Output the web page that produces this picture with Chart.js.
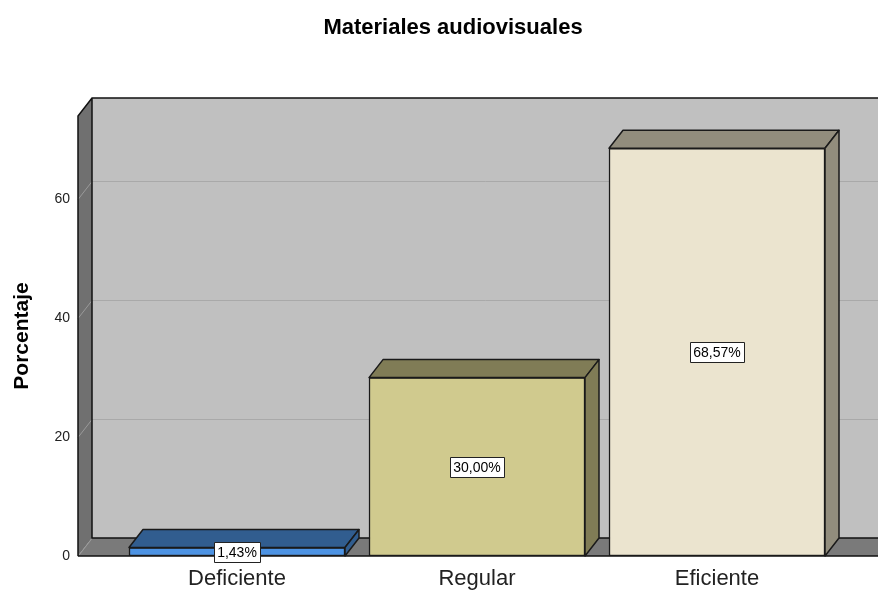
<!DOCTYPE html>
<html>
<head>
<meta charset="utf-8">
<script src="https://cdn.jsdelivr.net/npm/chart.js"></script>
<style>
  body { margin: 0; background: #fff; }
  #wrap { width: 878px; height: 590px; }
</style>
</head>
<body>
<div id="wrap"><canvas id="barChart" width="878" height="590"></canvas></div>
<script>
  // Data
  const categories = ['Deficiente', 'Regular', 'Eficiente'];
  const percentages = [1.43, 30.00, 68.57];
  const yTicks = [0, 20, 40, 60];

  // Styles
  const frontColors = ['#4d93e3', '#d0ca8e', '#ebe4cf'];
  const shadeColors = ['#315d8f', '#807c56', '#928d7d'];
  const depth = { dx: 14, dy: 18 };
  const FONT = 'Liberation Sans, Arial, sans-serif';

  // Walls, floor and back gridlines
  const walls = {
    id: 'walls',
    beforeDatasetsDraw(chart) {
      const ctx = chart.ctx;
      const ca = chart.chartArea;
      const y = chart.scales.y;
      const { dx, dy } = depth;
      const right = chart.width + 20;
      ctx.save();

      // back wall
      ctx.fillStyle = '#c0c0c0';
      ctx.fillRect(ca.left + dx, ca.top - dy, right - ca.left, ca.bottom - ca.top);

      // left wall
      ctx.fillStyle = '#707070';
      ctx.beginPath();
      ctx.moveTo(ca.left, ca.top);
      ctx.lineTo(ca.left + dx, ca.top - dy);
      ctx.lineTo(ca.left + dx, ca.bottom - dy);
      ctx.lineTo(ca.left, ca.bottom);
      ctx.closePath();
      ctx.fill();

      // floor
      ctx.fillStyle = '#7a7a7a';
      ctx.beginPath();
      ctx.moveTo(ca.left, ca.bottom);
      ctx.lineTo(ca.left + dx, ca.bottom - dy);
      ctx.lineTo(right, ca.bottom - dy);
      ctx.lineTo(right, ca.bottom);
      ctx.closePath();
      ctx.fill();

      // gridlines
      ctx.lineWidth = 1;
      yTicks.forEach(t => {
        const py = Math.round(y.getPixelForValue(t)) + 0.5;
        ctx.strokeStyle = '#a9a9a9';
        if (t > 0) {
          ctx.beginPath();
          ctx.moveTo(ca.left + dx, py - dy);
          ctx.lineTo(right, py - dy);
          ctx.stroke();
        }
        ctx.strokeStyle = '#9a9a9a';
        ctx.beginPath();
        ctx.moveTo(ca.left, py);
        ctx.lineTo(ca.left + dx, py - dy);
        ctx.stroke();
      });

      // outlines
      ctx.strokeStyle = '#111';
      ctx.lineWidth = 1.5;
      ctx.beginPath();
      ctx.moveTo(ca.left, ca.bottom);
      ctx.lineTo(ca.left, ca.top);
      ctx.lineTo(ca.left + dx, ca.top - dy);
      ctx.lineTo(right, ca.top - dy);
      ctx.moveTo(ca.left + dx, ca.top - dy);
      ctx.lineTo(ca.left + dx, ca.bottom - dy);
      ctx.lineTo(right, ca.bottom - dy);
      ctx.moveTo(ca.left, ca.bottom);
      ctx.lineTo(right, ca.bottom);
      ctx.stroke();
      ctx.restore();
    }
  };

  // 3D faces of the bars and value labels
  const bars3d = {
    id: 'bars3d',
    afterDatasetsDraw(chart) {
      const ctx = chart.ctx;
      const { dx, dy } = depth;
      const meta = chart.getDatasetMeta(0);
      ctx.save();
      ctx.lineWidth = 1.5;
      ctx.strokeStyle = '#1a1a1a';
      ctx.lineJoin = 'round';
      meta.data.forEach((bar, i) => {
        const { x, y, base, width } = bar.getProps(['x', 'y', 'base', 'width'], true);
        const l = x - width / 2, r = x + width / 2;
        ctx.fillStyle = shadeColors[i];
        // top
        ctx.beginPath();
        ctx.moveTo(l, y);
        ctx.lineTo(l + dx, y - dy);
        ctx.lineTo(r + dx, y - dy);
        ctx.lineTo(r, y);
        ctx.closePath();
        ctx.fill();
        ctx.stroke();
        // side
        ctx.beginPath();
        ctx.moveTo(r, y);
        ctx.lineTo(r + dx, y - dy);
        ctx.lineTo(r + dx, base - dy);
        ctx.lineTo(r, base);
        ctx.closePath();
        ctx.fill();
        ctx.stroke();
      });

      // value labels
      ctx.font = '14px ' + FONT;
      ctx.textAlign = 'center';
      ctx.textBaseline = 'middle';
      meta.data.forEach((bar, i) => {
        const { x, y, base } = bar.getProps(['x', 'y', 'base'], true);
        const text = percentages[i].toFixed(2).replace('.', ',') + '%';
        const cy = Math.round((y + base) / 2);
        const w = Math.ceil(ctx.measureText(text).width) + 6;
        const h = 20;
        const bx = Math.round(x - w / 2) + 0.5, by = cy - h / 2 + 0.5;
        ctx.fillStyle = '#fff';
        ctx.fillRect(bx, by, w, h);
        ctx.strokeStyle = '#222';
        ctx.lineWidth = 1;
        ctx.strokeRect(bx, by, w, h);
        ctx.fillStyle = '#000';
        ctx.fillText(text, x, cy + 1);
      });
      ctx.restore();
    }
  };

  const ctx = document.getElementById('barChart').getContext('2d');
  const barChart = new Chart(ctx, {
    type: 'bar',
    data: {
      datasets: [{
        data: percentages.map((v, i) => ({ x: i, y: v })),
        backgroundColor: frontColors,
        borderColor: '#1a1a1a',
        borderWidth: 1.5,
        borderSkipped: false,
        barThickness: 216
      }]
    },
    options: {
      responsive: false,
      animation: false,
      // left padding shifts the centred title to where the reference has it
      layout: { padding: { left: 28, right: 0, top: 0, bottom: 0 } },
      plugins: {
        legend: { display: false },
        tooltip: { enabled: false },
        title: {
          display: true,
          text: 'Materiales audiovisuales',
          color: '#000',
          font: { family: FONT, size: 22, weight: 'bold' },
          padding: { top: 15, bottom: 74.6 }
        }
      },
      scales: {
        x: {
          type: 'linear',
          offset: false,
          min: -0.6625,
          max: 2.6708,
          grid: { display: false, drawTicks: false, offset: false },
          border: { display: false },
          afterBuildTicks: s => { s.ticks = categories.map((c, i) => ({ value: i })); },
          afterFit: s => { s.height = 34; },
          ticks: {
            autoSkip: false,
            maxRotation: 0,
            padding: 10,
            color: '#222',
            font: { family: FONT, size: 22 },
            callback: v => categories[v]
          }
        },
        y: {
          min: 0,
          max: 74,
          grid: { display: false, drawTicks: false },
          border: { display: false },
          afterBuildTicks: s => { s.ticks = yTicks.map(v => ({ value: v })); },
          afterFit: s => { s.width = 50; },
          ticks: {
            padding: 8,
            color: '#222',
            font: { family: FONT, size: 14 }
          },
          title: {
            display: true,
            text: 'Porcentaje',
            color: '#000',
            font: { family: FONT, size: 21, weight: 'bold' },
            padding: { top: -18, bottom: 0 }
          }
        }
      }
    },
    plugins: [walls, bars3d]
  });
</script>
</body>
</html>
